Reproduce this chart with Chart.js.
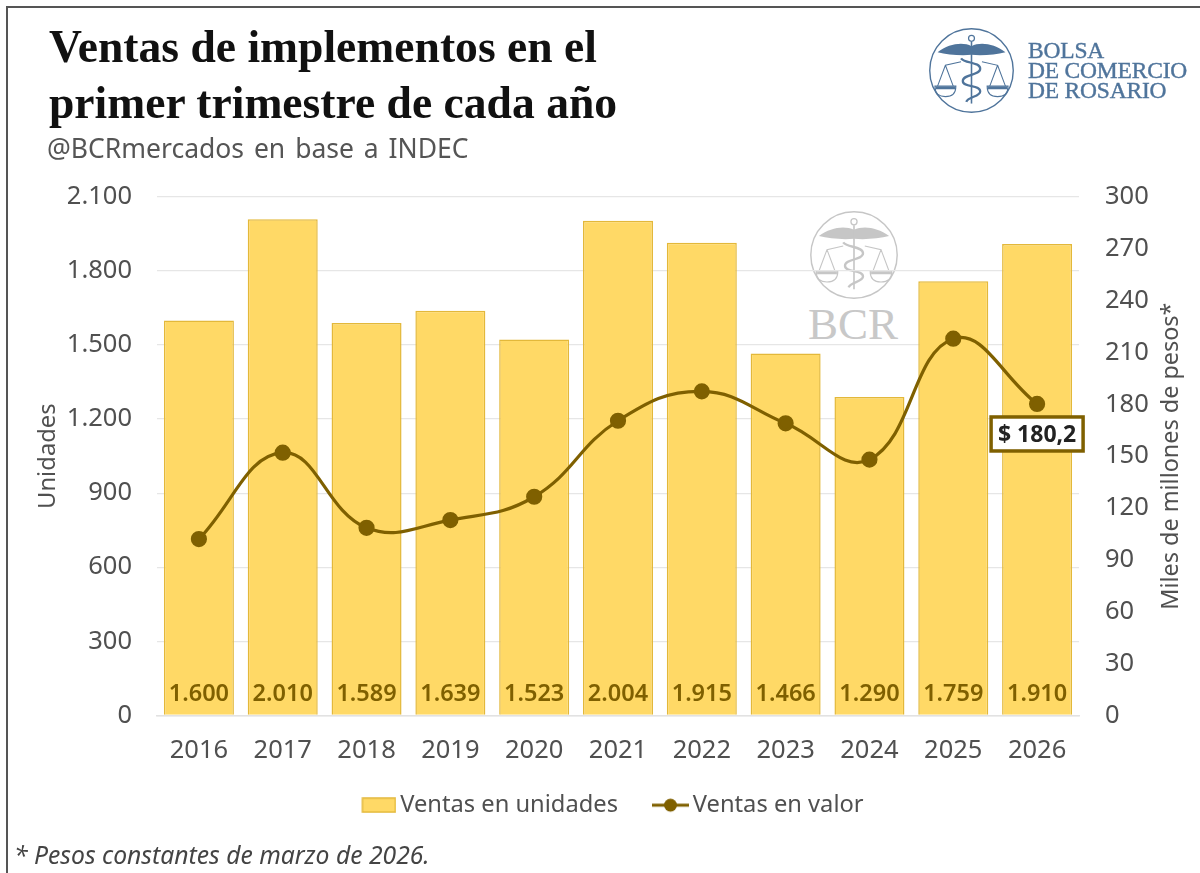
<!DOCTYPE html>
<html lang="es"><head><meta charset="utf-8">
<script src="https://cdn.jsdelivr.net/npm/chart.js@4"></script>
<style>
html,body{margin:0;padding:0;background:#fff}
#wrap{position:relative;width:1200px;height:873px;overflow:hidden;background:#fff;filter:blur(.45px)}
#frame{position:absolute;left:6px;top:6px;width:1300px;height:1000px;border:2px solid #555;box-sizing:border-box}
.t{position:absolute;white-space:nowrap}
#t1,#t2{left:49px;font:700 45.6px "Liberation Serif",serif;color:#111}
#t1{top:20px}#t2{top:76px}
#sub{left:47px;top:130px;font:26.5px "Noto Sans",sans-serif;color:#555;word-spacing:3px}
#foot{left:14px;top:838px;font:italic 24.7px "Noto Sans",sans-serif;color:#444}
.org{left:1028px;font:23.5px/1 "Liberation Serif",serif;color:#4f749b;letter-spacing:-.2px;-webkit-text-stroke:.4px #4f749b}
canvas{position:absolute;left:0;top:0}
svg.e{position:absolute;overflow:visible}
#wm{left:809px;top:210px;width:90px;height:90px;color:#c6c6c6}
#logo{left:928px;top:27px;width:87px;height:87px;color:#4f749b}
#bcr{left:808px;top:302px;font:45px/1 "Liberation Serif",serif;color:#c8c8c8}
</style></head><body>
<div id="wrap">
<svg width="0" height="0" style="position:absolute"><defs><g id="emblem" fill="none" stroke="currentColor">
<circle cx="50" cy="50" r="48" stroke-width="1.6"/>
<path d="M50 22C40 17 24 19 11 29C22 32 38 33 50 32C62 33 78 32 89 29C76 19 60 17 50 22Z" fill="currentColor" stroke="none"/>
<circle cx="50" cy="13" r="3.4" stroke-width="1.4"/>
<path d="M50 17V88" stroke-width="1.8"/>
<path d="M38 36C42 42 60 40 60 48C60 56 40 54 40 62C40 70 60 66 60 74C60 80 46 80 44 86" stroke-width="2.6"/>
<path d="M38 40L20 44L11 68M20 44L29 68M62 40L80 44L71 68M80 44L89 68" stroke-width="1.2"/>
<path d="M8 68H32C32 78 26 80 20 80C14 80 8 78 8 68ZM68 68H92C92 78 86 80 80 80C74 80 68 78 68 68Z" stroke-width="1.3"/>
<path d="M9 70H31M69 70H91" stroke-width="3"/>
</g></defs></svg>
<svg class="e" id="wm" viewBox="0 0 100 100"><use href="#emblem"/></svg>
<div class="t" id="bcr">BCR</div>
<canvas id="c" width="1200" height="873"></canvas>
<div id="frame"></div>
<div class="t" id="t1">Ventas de implementos en el</div>
<div class="t" id="t2">primer trimestre de cada año</div>
<div class="t" id="sub">@BCRmercados en base a INDEC</div>
<svg class="e" id="logo" viewBox="0 0 100 100"><use href="#emblem"/></svg>
<div class="t org" style="top:39px">BOLSA</div>
<div class="t org" style="top:59px">DE COMERCIO</div>
<div class="t org" style="top:79px">DE ROSARIO</div>
<div class="t" id="foot">* Pesos constantes de marzo de 2026.</div>
</div>
<script>
const categories=['2016','2017','2018','2019','2020','2021','2022','2023','2024','2025','2026'];
const unidades=[1600,2010,1589,1639,1523,2004,1915,1466,1290,1759,1910];
const valor=[102,152,108.5,113,126.5,170.5,187.5,169,148,218,180.2];
const calloutText='$ 180,2';
const seriesNames=['Ventas en unidades','Ventas en valor'];
const axisTitles=['Unidades','Miles de millones de pesos*'];

const GOLD='#7F6000',FILL='#FFD966',EDGE='#E3B83A',TXT='#505050',FONT='"Noto Sans",sans-serif';
const fmt=v=>String(v).replace(/\B(?=(\d{3})+$)/g,'.');
function sym(w,h,fn){const c=document.createElement('canvas');c.width=w;c.height=h;fn(c.getContext('2d'));return c;}
const symBar=sym(48,16,x=>{x.fillStyle=FILL;x.strokeStyle=EDGE;x.lineWidth=1.5;x.fillRect(14,1,33,14);x.strokeRect(14,1,33,14);});
const symLine=sym(48,16,x=>{x.strokeStyle=GOLD;x.fillStyle=GOLD;x.lineWidth=3;x.beginPath();x.moveTo(11,8);x.lineTo(48,8);x.stroke();x.beginPath();x.arc(29.5,8,6.5,0,7);x.fill();});

const labels={id:'labels',afterDatasetsDraw(ch){
  const x=ch.ctx;x.save();
  const bars=ch.getDatasetMeta(1).data,pts=ch.getDatasetMeta(0).data,bottom=ch.chartArea.bottom;
  x.font='600 23.5px '+FONT;x.fillStyle=GOLD;x.textAlign='center';x.textBaseline='middle';
  bars.forEach((b,i)=>x.fillText(fmt(unidades[i]),b.x,bottom-21));
  const p=pts[pts.length-1],w=92,h=34,cy=p.y+30;
  x.fillStyle='#fff';x.strokeStyle=GOLD;x.lineWidth=3.5;
  x.fillRect(p.x-w/2,cy-h/2,w,h);x.strokeRect(p.x-w/2,cy-h/2,w,h);
  x.font='700 23px '+FONT;x.fillStyle='#222';x.fillText(calloutText,p.x,cy+1);
  const s=ch.scales.y2;
  x.translate(1171,(s.top+s.bottom)/2);x.rotate(-Math.PI/2);
  x.font='23.4px '+FONT;x.fillStyle=TXT;x.fillText(axisTitles[1],0,0);
  x.restore();
}};

new Chart(document.getElementById('c'),{
  data:{labels:categories,datasets:[
    {type:'line',label:seriesNames[1],data:valor,yAxisID:'y2',order:1,borderColor:GOLD,backgroundColor:GOLD,borderWidth:3.2,tension:.42,pointRadius:6.5,pointHoverRadius:6.5,pointBackgroundColor:GOLD,pointBorderColor:GOLD,pointStyle:'circle'},
    {type:'bar',label:seriesNames[0],data:unidades,yAxisID:'y',order:2,backgroundColor:FILL,borderColor:EDGE,borderWidth:1.5,barPercentage:.835,categoryPercentage:1}
  ]},
  options:{responsive:false,animation:false,
    layout:{padding:{top:197,left:20,right:0,bottom:46}},
    plugins:{tooltip:{enabled:false},title:{display:false},
      legend:{position:'bottom',labels:{color:TXT,font:{family:FONT,size:23.7},usePointStyle:true,pointStyleWidth:32,boxHeight:16,padding:31,
        generateLabels:()=>[{text:seriesNames[0],pointStyle:symBar,fontColor:TXT,datasetIndex:1},{text:seriesNames[1],pointStyle:symLine,fontColor:TXT,datasetIndex:0}]}}},
    scales:{
      x:{offset:true,afterFit(s){s.height=47},grid:{display:false},border:{color:'#e2e2e2',width:1.5},ticks:{color:TXT,font:{family:FONT,size:25.5,lineHeight:1},padding:15,maxRotation:0}},
      y:{position:'left',min:0,max:2100,afterFit(s){s.width=137},grid:{color:'#e6e6e6',lineWidth:1.3,drawTicks:false},border:{display:false},
        ticks:{stepSize:300,color:TXT,padding:25,font:{family:FONT,size:25.5},callback:v=>fmt(v)},
        title:{display:true,text:axisTitles[0],color:TXT,font:{family:FONT,size:23.8},padding:{top:14,bottom:0}}},
      y2:{position:'right',min:0,max:300,afterFit(s){s.width=121},grid:{display:false,drawTicks:false},border:{display:false},
        ticks:{stepSize:30,color:TXT,padding:26,font:{family:FONT,size:25.5}}}
    }
  },plugins:[labels]
});
</script>
</body></html>
